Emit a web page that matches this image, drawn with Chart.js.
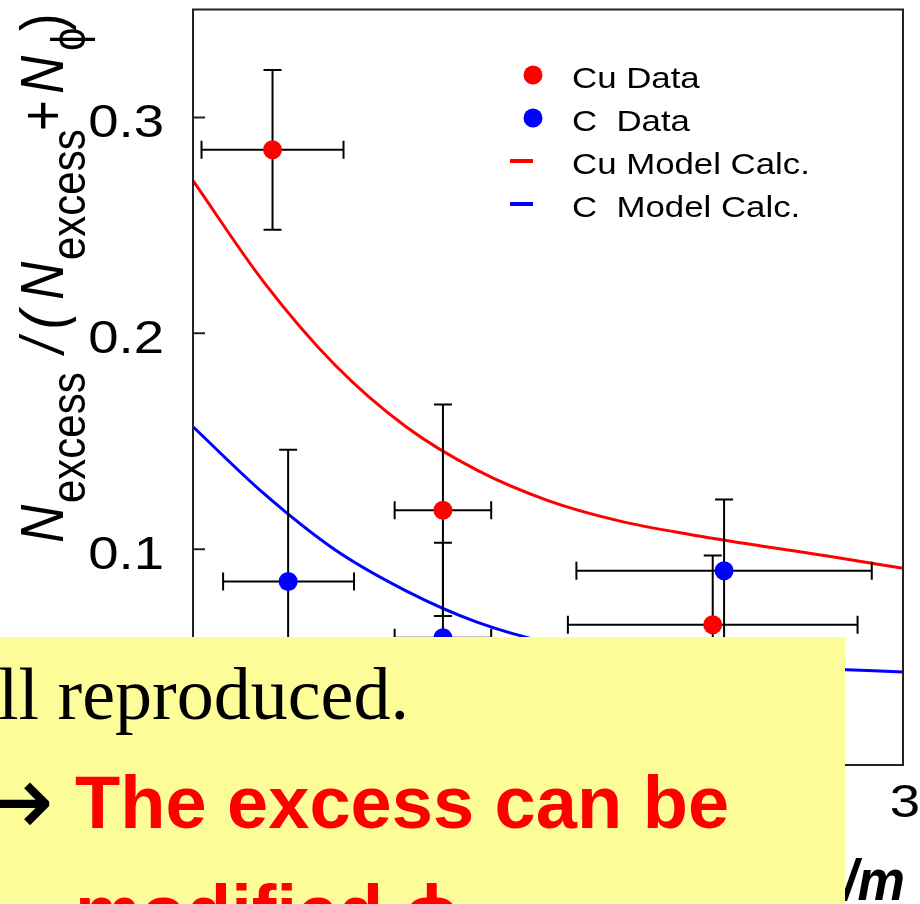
<!DOCTYPE html>
<html>
<head>
<meta charset="utf-8">
<script src="https://cdn.jsdelivr.net/npm/chart.js@4.4.1/dist/chart.umd.min.js"></script>
<style>
  html, body { margin: 0; padding: 0; background: #fff; }
  #wrap { width: 920px; height: 904px; position: relative; }
</style>
</head>
<body>
<div id="wrap"><canvas id="ratioChart"></canvas></div>
<script>
// measured ratios with bin widths (x) and statistical errors (y)
const cuX    = [0.78, 1.38, 2.33];
const cuY    = [0.285, 0.118, 0.065];
const cuXLo  = [0.53, 1.21, 1.82];
const cuXHi  = [1.03, 1.55, 2.84];
const cuYErr = [0.037, 0.049, 0.032];

const cX    = [0.835, 1.38, 2.37];
const cY    = [0.085, 0.059, 0.090];
const cXLo  = [0.606, 1.21, 1.85];
const cXHi  = [1.067, 1.55, 2.89];
const cYErr = [0.061, 0.044, 0.033];

// model calculation curves, sampled every 0.25
const modelX   = [0.5, 0.75, 1.0, 1.25, 1.5, 1.75, 2.0, 2.25, 2.5, 2.75, 3.0];
const cuModelY = [0.2707, 0.2236, 0.1853, 0.1567, 0.1366, 0.1225, 0.1131, 0.1068, 0.1015, 0.0965, 0.0911];
const cModelY  = [0.1567, 0.1257, 0.0997, 0.0807, 0.0662, 0.0567, 0.0512, 0.0478, 0.0457, 0.0444, 0.0431];

const yTickLabels = ['0', '0.1', '0.2', '0.3'];
const xTickLabels = ['1', '2', '3'];

const RED = '#ff0000';
const BLUE = '#0000ff';
const SANS = '"Liberation Sans", Arial, sans-serif';
const STRETCH = 1.16;

function pts(xs, ys) {
  return xs.map(function (x, i) { return { x: x, y: ys[i] }; });
}

function wideText(ctx, text, x, y, align) {
  ctx.save();
  ctx.translate(x, y);
  ctx.scale(STRETCH, 1);
  ctx.textAlign = align || 'left';
  ctx.fillText(text, 0, 0);
  ctx.restore();
}

// horizontal + vertical error bars, drawn just under each data set's markers
var errorBars = {
  id: 'errorBars',
  beforeDatasetDraw: function (chart, args) {
    var ds = chart.data.datasets[args.index];
    if (!ds.yErr) return;
    var xs = chart.scales.x, ys = chart.scales.y, ctx = chart.ctx;
    var cap = 9;
    ctx.save();
    ctx.strokeStyle = '#000';
    ctx.lineWidth = 2;
    ds.data.forEach(function (p, i) {
      var px = xs.getPixelForValue(p.x), py = ys.getPixelForValue(p.y);
      var x0 = xs.getPixelForValue(ds.xLo[i]), x1 = xs.getPixelForValue(ds.xHi[i]);
      var y0 = ys.getPixelForValue(p.y - ds.yErr[i]), y1 = ys.getPixelForValue(p.y + ds.yErr[i]);
      ctx.beginPath();
      ctx.moveTo(x0, py); ctx.lineTo(x1, py);
      ctx.moveTo(x0, py - cap); ctx.lineTo(x0, py + cap);
      ctx.moveTo(x1, py - cap); ctx.lineTo(x1, py + cap);
      ctx.moveTo(px, y0); ctx.lineTo(px, y1);
      ctx.moveTo(px - cap, y0); ctx.lineTo(px + cap, y0);
      ctx.moveTo(px - cap, y1); ctx.lineTo(px + cap, y1);
      ctx.stroke();
    });
    ctx.restore();
  }
};

// frame, inward ticks, tick labels, axis titles and legend
var frame = {
  id: 'frame',
  afterDatasetsDraw: function (chart) {
    var ctx = chart.ctx, a = chart.chartArea;
    var xs = chart.scales.x, ys = chart.scales.y;
    ctx.save();
    ctx.strokeStyle = '#222';
    ctx.lineWidth = 2;
    ctx.strokeRect(a.left, a.top, a.right - a.left, a.bottom - a.top);

    ctx.beginPath();
    ys.ticks.forEach(function (t) {
      var py = ys.getPixelForValue(t.value);
      if (py > a.bottom - 1) return;
      ctx.moveTo(a.left, py); ctx.lineTo(a.left + 12, py);
    });
    xs.ticks.forEach(function (t) {
      var px = xs.getPixelForValue(t.value);
      if (px < a.left + 1 || px > a.right - 1) return;
      ctx.moveTo(px, a.bottom); ctx.lineTo(px, a.bottom - 12);
    });
    ctx.stroke();

    ctx.fillStyle = '#000';
    ctx.font = '47px ' + SANS;
    yTickLabels.forEach(function (lab) {
      var py = ys.getPixelForValue(parseFloat(lab));
      wideText(ctx, lab, a.left - 29, py + 20, 'right');
    });
    xTickLabels.forEach(function (lab) {
      var px = xs.getPixelForValue(parseFloat(lab));
      wideText(ctx, lab, px + 2, a.bottom + 52, 'center');
    });

    // x title (mostly hidden under the note box)
    ctx.font = 'italic bold 58px ' + SANS;
    ctx.save();
    ctx.translate(905, 900);
    ctx.scale(0.92, 1);
    ctx.textAlign = 'right';
    ctx.fillText('\u03b2\u03b3 = p/m', 0, 0);
    ctx.restore();

    // y title, rotated, with subscripts
    var runs = [
      { t: 'N', at: 0, it: true },
      { t: 'excess', at: 40, sub: true },
      { t: '/', at: 190, it: true },
      { t: '(', at: 214, it: true },
      { t: 'N', at: 243, it: true },
      { t: 'excess', at: 283, sub: true },
      { t: '+', at: 412 },
      { t: 'N', at: 449, it: true },
      { t: '\u03d5', at: 492, sub: true },
      { t: ')', at: 512 }
    ];
    ctx.save();
    ctx.translate(63, 543);
    ctx.rotate(-Math.PI / 2);
    ctx.scale(1, STRETCH);
    ctx.textAlign = 'left';
    runs.forEach(function (r) {
      ctx.font = (r.it ? 'italic ' : '') + (r.sub ? 42 : 53) + 'px ' + SANS;
      ctx.fillText(r.t, r.at, r.sub ? 19 : 0);
    });
    ctx.restore();

    // legend
    ctx.font = '30px ' + SANS;
    var rowY = 88;
    chart.data.datasets.forEach(function (ds) {
      var cy = rowY - 13;
      if (ds.showLine) {
        ctx.strokeStyle = ds.borderColor;
        ctx.lineWidth = 4;
        ctx.beginPath();
        ctx.moveTo(510, cy); ctx.lineTo(533, cy);
        ctx.stroke();
      } else {
        ctx.fillStyle = ds.backgroundColor;
        ctx.beginPath();
        ctx.arc(533, cy, 9.5, 0, Math.PI * 2);
        ctx.fill();
      }
      ctx.fillStyle = '#000';
      wideText(ctx, ds.label, 572, rowY, 'left');
      rowY += 43;
    });
    ctx.restore();
  },
  afterDraw: function (chart) {
    var ctx = chart.ctx;
    ctx.save();
    ctx.fillStyle = '#fcfc99';
    ctx.fillRect(0, 637, 845, 267);
    ctx.fillStyle = '#000';
    ctx.textAlign = 'left';
    ctx.font = '74px "Liberation Serif", "Times New Roman", serif';
    ctx.fillText('ll reproduced.', -2, 719);
    ctx.font = '100px "DejaVu Sans", sans-serif';
    ctx.textAlign = 'right';
    ctx.fillText('\u2192', 54, 835);
    ctx.textAlign = 'left';
    ctx.fillStyle = RED;
    ctx.font = 'bold 74px ' + SANS;
    ctx.fillText('The excess can be', 75, 828);
    ctx.fillText('modified \u03d5', 75, 937);
    ctx.restore();
  }
};

var ctx = document.getElementById('ratioChart').getContext('2d');
new Chart(ctx, {
  type: 'scatter',
  data: {
    datasets: [
      {
        label: 'Cu Data',
        data: pts(cuX, cuY),
        xLo: cuXLo, xHi: cuXHi, yErr: cuYErr,
        backgroundColor: RED, borderColor: RED,
        pointRadius: 9.5, pointBorderWidth: 0, showLine: false
      },
      {
        label: 'C  Data',
        data: pts(cX, cY),
        xLo: cXLo, xHi: cXHi, yErr: cYErr,
        backgroundColor: BLUE, borderColor: BLUE,
        pointRadius: 9.5, pointBorderWidth: 0, showLine: false
      },
      {
        label: 'Cu Model Calc.',
        data: pts(modelX, cuModelY),
        showLine: true, borderColor: RED, borderWidth: 3,
        pointRadius: 0, cubicInterpolationMode: 'monotone', fill: false
      },
      {
        label: 'C  Model Calc.',
        data: pts(modelX, cModelY),
        showLine: true, borderColor: BLUE, borderWidth: 3,
        pointRadius: 0, cubicInterpolationMode: 'monotone', fill: false
      }
    ]
  },
  options: {
    responsive: true,
    maintainAspectRatio: false,
    animation: false,
    layout: { padding: { top: 9, right: 17, left: 0, bottom: 0 } },
    plugins: { legend: { display: false }, tooltip: { enabled: false } },
    scales: {
      x: {
        type: 'linear', min: 0.5, max: 3,
        ticks: { display: false, stepSize: 0.5 },
        grid: { display: false }, border: { display: false },
        afterFit: function (s) { s.height = 139; }
      },
      y: {
        type: 'linear', min: 0, max: 0.35,
        ticks: { display: false, stepSize: 0.1 },
        grid: { display: false }, border: { display: false },
        afterBuildTicks: function (s) {
          s.ticks = s.ticks.filter(function (t) {
            return Math.abs(t.value * 10 - Math.round(t.value * 10)) < 1e-6;
          });
        },
        afterFit: function (s) { s.width = 193; }
      }
    }
  },
  plugins: [errorBars, frame]
});
</script>
</body>
</html>
